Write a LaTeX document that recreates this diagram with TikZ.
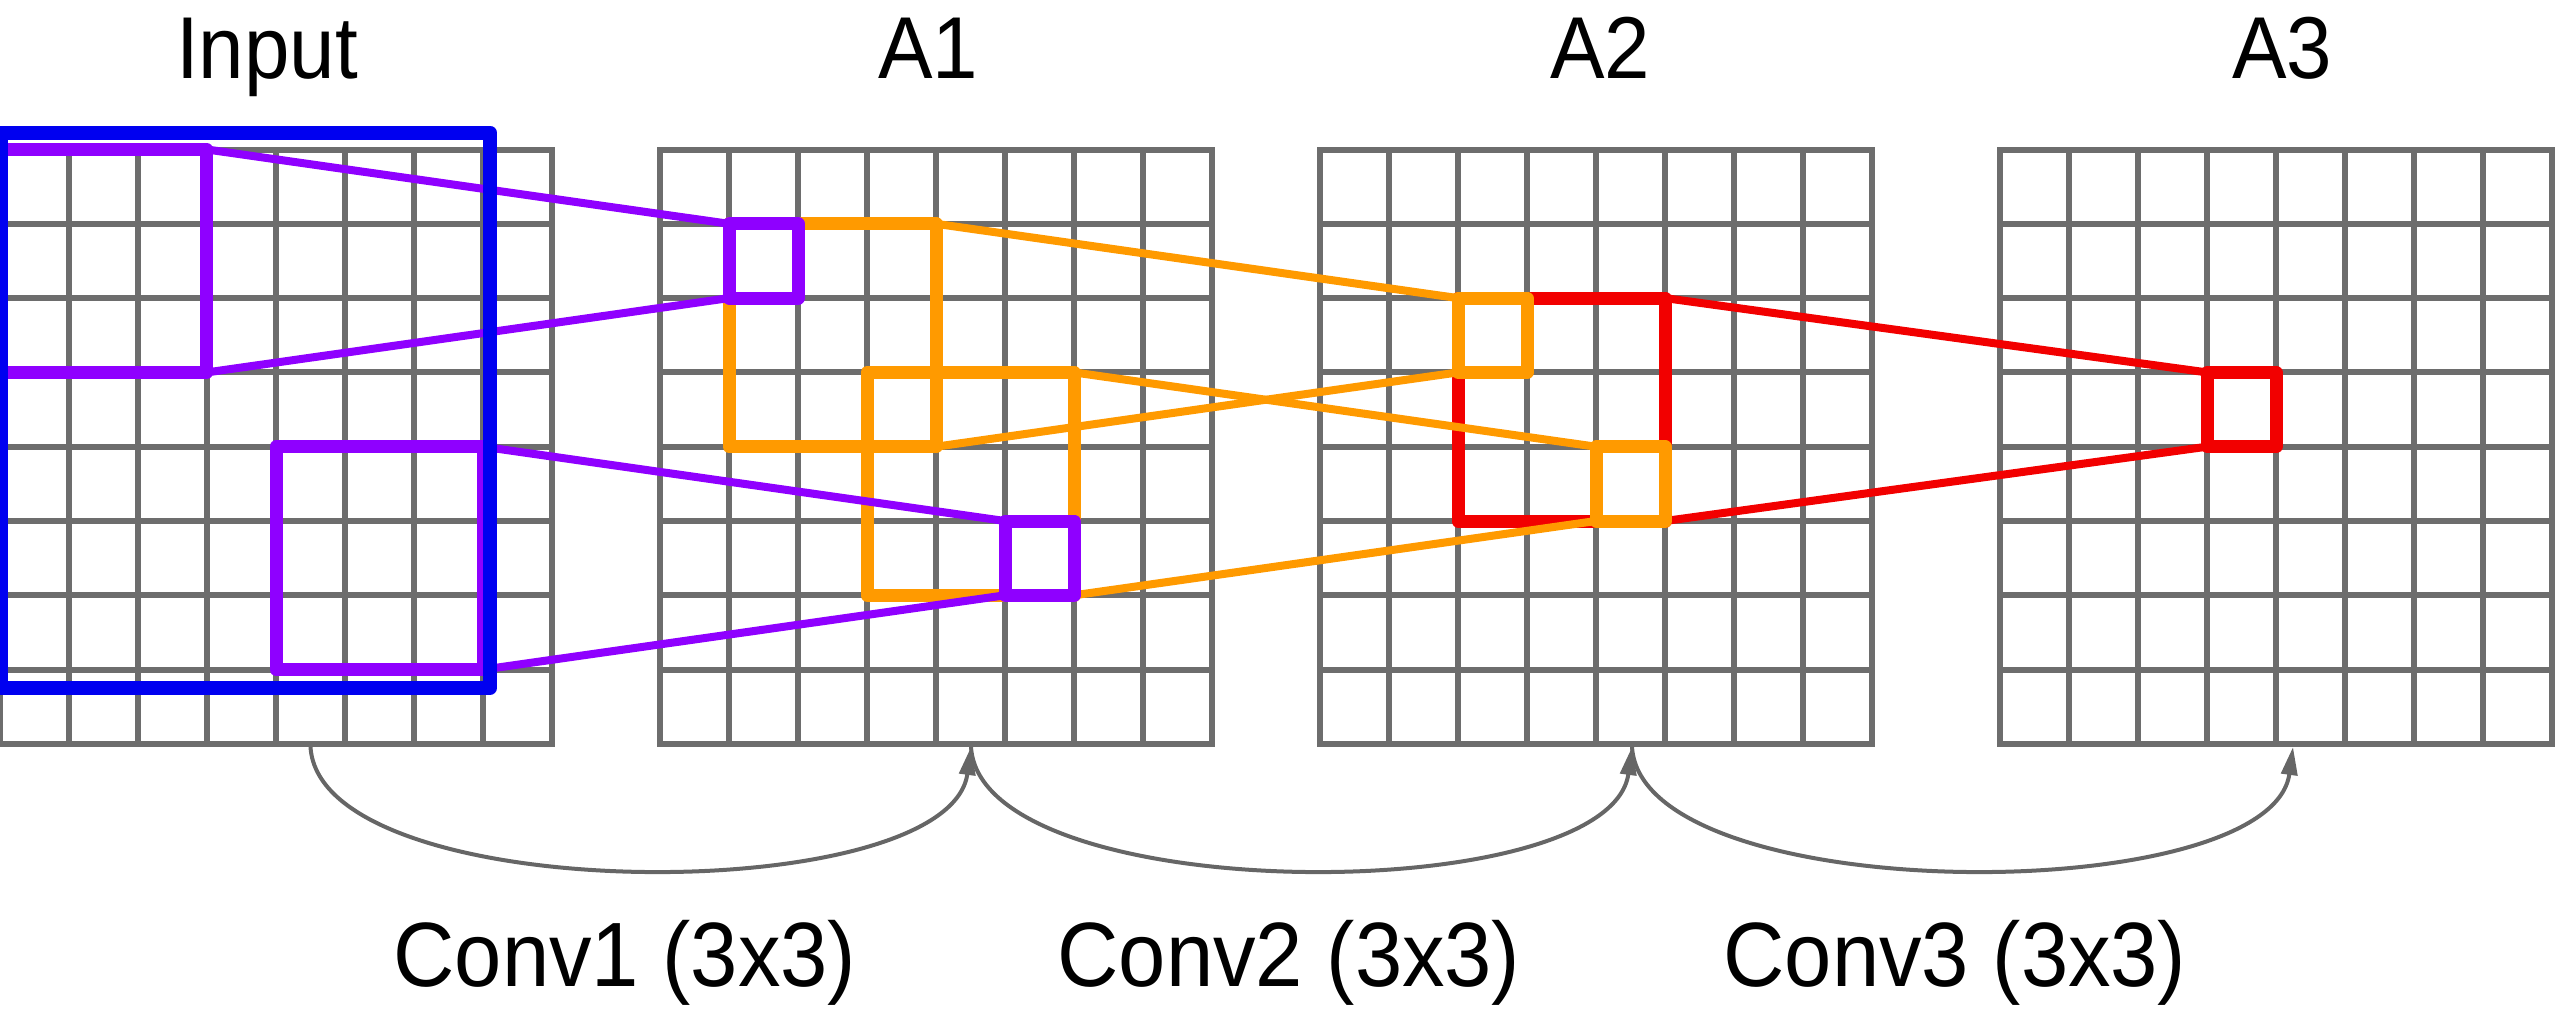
\documentclass[tikz,border=0pt]{standalone}
\usepackage{fontspec}
\setmainfont{Liberation Sans}[FakeStretch=0.93]
\usetikzlibrary{arrows.meta}
\definecolor{gridgray}{HTML}{6D6D6D}
\definecolor{cblue}{HTML}{0000F0}
\definecolor{cpurple}{HTML}{8F00FF}
\definecolor{corange}{HTML}{FF9A00}
\definecolor{cred}{HTML}{F20000}
\definecolor{arcgray}{HTML}{666666}
\begin{document}
\begin{tikzpicture}[x=0.1mm,y=-0.1mm,
  gridline/.style={gridgray, line width=0.6mm, line cap=rect},
  gridframe/.style={rectangle, inner sep=0pt, outer sep=0pt, anchor=north west, minimum width=55.2mm, minimum height=59.44mm},
  box/.style={draw, rectangle, inner sep=0pt, outer sep=0pt, line join=round, anchor=north west},
  bigbox/.style={box, line width=1.3mm, minimum width=20.7mm, minimum height=22.29mm},
  smallbox/.style={box, line width=1.3mm, minimum width=6.9mm, minimum height=7.43mm},
  link/.style={line width=0.8mm, line cap=round},
  toplbl/.style={font=\fontsize{25}{30}\selectfont, inner sep=0pt, anchor=base},
  botlbl/.style={font=\fontsize{26}{31}\selectfont, inner sep=0pt, anchor=base},
  convarc/.style={arcgray, line width=0.4mm, -{Triangle[length=2.8mm,width=1.6mm]}}
]
\useasboundingbox (0,0) rectangle (2560,1009);

% grids
\foreach \gx/\gn in {0/gIn,660/gA1,1320/gA2,2000/gA3} {
  \node[gridframe] (\gn) at (\gx,149.5) {};
  \foreach \i in {0,...,8}
    \draw[gridline] (\gx+\i*69,149.5) -- (\gx+\i*69,743.9);
  \foreach \j in {0,...,8}
    \draw[gridline] (\gx,149.5+\j*74.3) -- (\gx+552,149.5+\j*74.3);
}

% labels
\node[toplbl] (lIn) at (267,78) {Input};
\node[toplbl] (lA1) at (928,78) {A1};
\node[toplbl] (lA2) at (1600,78) {A2};
\node[toplbl] (lA3) at (2282,78) {A3};
\node[botlbl] (lC1) at (625,986) {Conv1 (3x3)};
\node[botlbl] (lC2) at (1289,986) {Conv2 (3x3)};
\node[botlbl] (lC3) at (1955,986) {Conv3 (3x3)};

% red layer
\node[bigbox, cred] (a2R) at (1458,298.1) {};
\node[smallbox, cred] (a3R) at (2207,372.4) {};
\draw[link, cred] (a2R.north east) -- (a3R.north west);
\draw[link, cred] (a2R.south east) -- (a3R.south west);

% orange layer
\node[bigbox, corange] (a1O1) at (729,223.8) {};
\node[bigbox, corange] (a1O2) at (867,372.4) {};
\node[smallbox, corange] (a2O1) at (1458,298.1) {};
\node[smallbox, corange] (a2O2) at (1596,446.7) {};
\draw[link, corange] (a1O1.north east) -- (a2O1.north west);
\draw[link, corange] (a1O1.south east) -- (a2O1.south west);
\draw[link, corange] (a1O2.north east) -- (a2O2.north west);
\draw[link, corange] (a1O2.south east) -- (a2O2.south west);

% purple layer
\node[bigbox, cpurple] (iP1) at (0,149.5) {};
\node[bigbox, cpurple] (iP2) at (276,446.7) {};
\node[smallbox, cpurple] (a1P1) at (729,223.8) {};
\node[smallbox, cpurple] (a1P2) at (1005,521) {};
\draw[link, cpurple] (iP1.north east) -- (a1P1.north west);
\draw[link, cpurple] (iP1.south east) -- (a1P1.south west);
\draw[link, cpurple] (iP2.north east) -- (a1P2.north west);
\draw[link, cpurple] (iP2.south east) -- (a1P2.south west);

% blue layer
\node[box, cblue, line width=1.4mm, minimum width=48.85mm, minimum height=55.55mm] (iBlue) at (1.5,132.5) {};

% convolution arcs
\coordinate (aIn) at (310.5,747);
\coordinate (aA1) at (971,747);
\coordinate (aA2) at (1632,747);
\coordinate (aA3) at (2293,747);
\draw[convarc] (aIn) .. controls +(10,162) and +(-22,162) .. (aA1);
\draw[convarc] (aA1) .. controls +(10,162) and +(-22,162) .. (aA2);
\draw[convarc] (aA2) .. controls +(10,162) and +(-22,162) .. (aA3);
\end{tikzpicture}
\end{document}
